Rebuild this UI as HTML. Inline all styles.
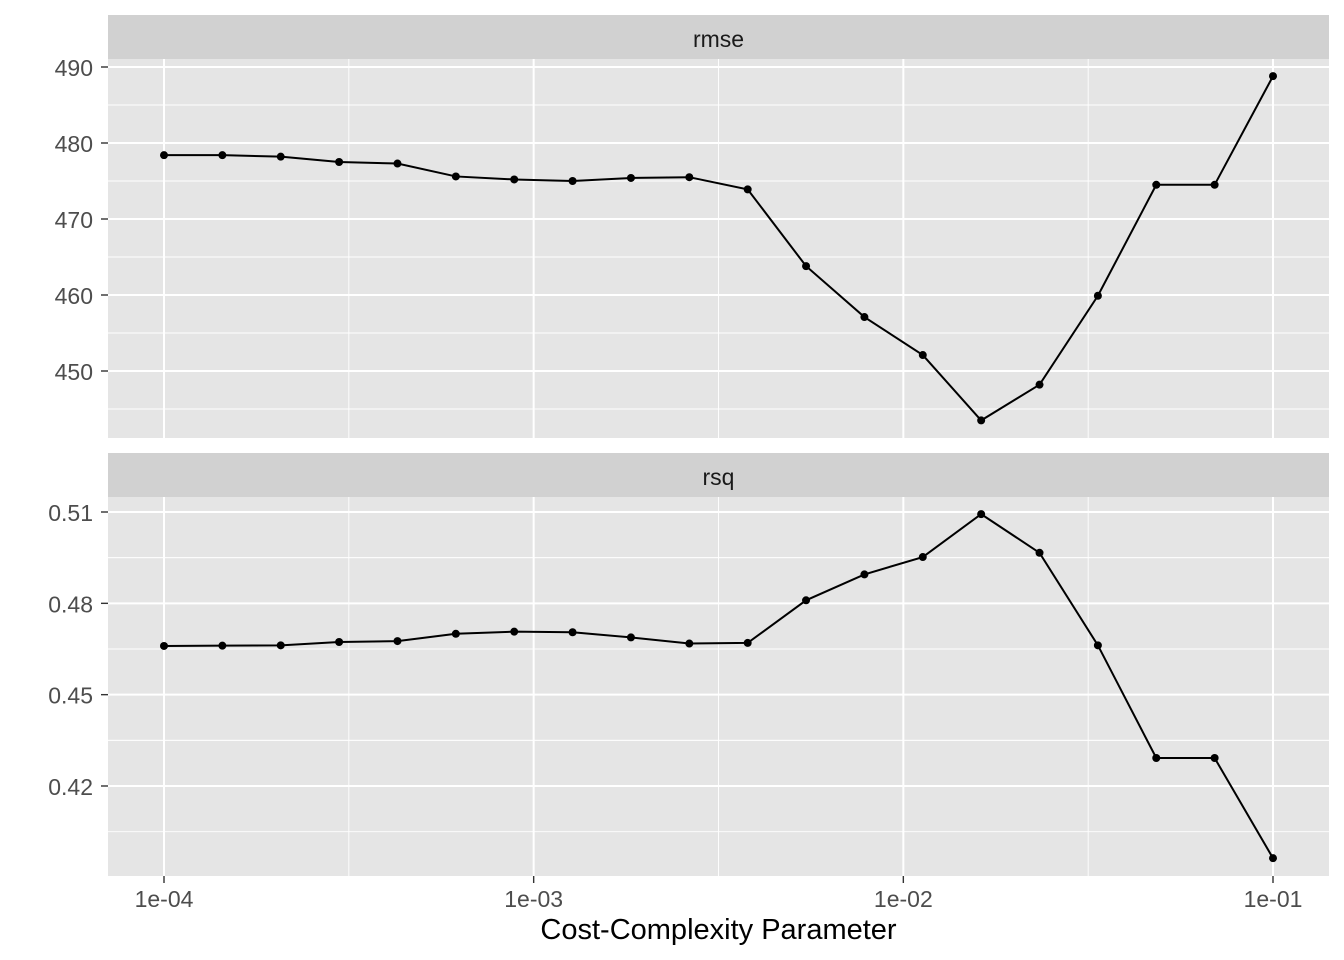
<!DOCTYPE html>
<html><head><meta charset="utf-8"><style>
body{margin:0;background:#fff;}
svg{display:block;font-family:"Liberation Sans",sans-serif;}
</style></head><body>
<svg id="chart" width="1344" height="960"></svg>
<script>
const cpValues = [];
for (let i = 0; i < 20; i++) cpValues.push(Math.pow(10, -4 + 3 * i / 19));
const rmseValues = [478.4,478.4,478.2,477.5,477.3,475.6,475.2,475.0,475.4,475.5,473.9,463.8,457.1,452.1,443.5,448.2,459.9,474.5,474.5,488.8];
const rsqValues = [0.4660,0.4661,0.4662,0.4673,0.4676,0.4700,0.4707,0.4705,0.4688,0.4668,0.4670,0.4810,0.4895,0.4952,0.5093,0.4966,0.4662,0.4292,0.4292,0.3963];
const xTickLabels = ["1e-04","1e-03","1e-02","1e-01"];
const xTickValues = [1e-4,1e-3,1e-2,1e-1];
const rmseTicks = [450,460,470,480,490];
const rsqTicks = [0.42,0.45,0.48,0.51];

const NS = "http://www.w3.org/2000/svg";
const svg = document.getElementById("chart");
function mk(tag, attrs, parent) {
  const e = document.createElementNS(NS, tag);
  for (const k in attrs) e.setAttribute(k, attrs[k]);
  (parent || svg).appendChild(e);
  return e;
}
const X0 = 108, X1 = 1329;
function xs(v) { return 164 + (Math.log10(v) + 4) * (1273 - 164) / 3; }

function panel(name, top, bottom, stripTop, vals, ticks, ymap, fmt, minorStep) {
  const g = mk("g", {});
  
  
  const strip = mk("rect", {x: X0, y: stripTop, width: X1 - X0, height: top - stripTop, fill: "#d1d1d1"}, g);
  
  
  const st = mk("text", {x: (X0 + X1) / 2, y: (stripTop + top) / 2 + 10, "text-anchor": "middle", "font-size": 23, fill: "#1a1a1a"}, g);
  st.textContent = name;
  
  
  const bg = mk("rect", {x: X0, y: top, width: X1 - X0, height: bottom - top, fill: "#e5e5e5"}, g);
  
  
  for (let i = 0; i < ticks.length; i++) {
    for (const m of [ticks[i] - minorStep, ticks[i] + minorStep]) {
      const y = ymap(m);
      if (y > top && y < bottom) mk("line", {x1: X0, x2: X1, y1: y, y2: y, stroke: "#fff", "stroke-width": 0.9}, g);
    }
  }
  for (let d = -4; d < -1; d++) {
    const x = xs(Math.pow(10, d + 0.5));
    mk("line", {x1: x, x2: x, y1: top, y2: bottom, stroke: "#fff", "stroke-width": 0.9}, g);
  }
  ticks.forEach(t => {
    const y = ymap(t);
    mk("line", {x1: X0, x2: X1, y1: y, y2: y, stroke: "#fff", "stroke-width": 2}, g);
    mk("line", {x1: X0 - 7, x2: X0, y1: y, y2: y, stroke: "#333", "stroke-width": 1.4}, g);
    const tl = mk("text", {x: X0 - 15, y: y + 9, "text-anchor": "end", "font-size": 23, fill: "#4d4d4d"}, g);
    tl.textContent = fmt(t);
    
    
  });
  xTickValues.forEach(v => {
    const x = xs(v);
    mk("line", {x1: x, x2: x, y1: top, y2: bottom, stroke: "#fff", "stroke-width": 2}, g);
  });
  const pts = vals.map((v, i) => xs(cpValues[i]) + "," + ymap(v)).join(" ");
  const line = mk("polyline", {points: pts, fill: "none", stroke: "#000", "stroke-width": 2}, g);
  
  
  vals.forEach((v, i) => {
    const c = mk("circle", {cx: xs(cpValues[i]), cy: ymap(v), r: 4, fill: "#000"}, g);
    
    
  });
}
panel("rmse", 59, 438, 15, rmseValues, rmseTicks, v => 67 + (490 - v) * 7.6, t => String(t), 5);
panel("rsq", 497, 876, 453, rsqValues, rsqTicks, v => 512 + (0.51 - v) * 3044.4, t => t.toFixed(2), 0.015);

xTickValues.forEach((v, i) => {
  const x = xs(v);
  mk("line", {x1: x, x2: x, y1: 876, y2: 883, stroke: "#333", "stroke-width": 1.4});
  const t = mk("text", {x: x, y: 907, "text-anchor": "middle", "font-size": 23, fill: "#4d4d4d"});
  t.textContent = xTickLabels[i];
  
  
});
const xt = mk("text", {x: (X0 + X1) / 2, y: 939, "text-anchor": "middle", "font-size": 29, fill: "#000"});
xt.textContent = "Cost-Complexity Parameter";


</script>
</body></html>
